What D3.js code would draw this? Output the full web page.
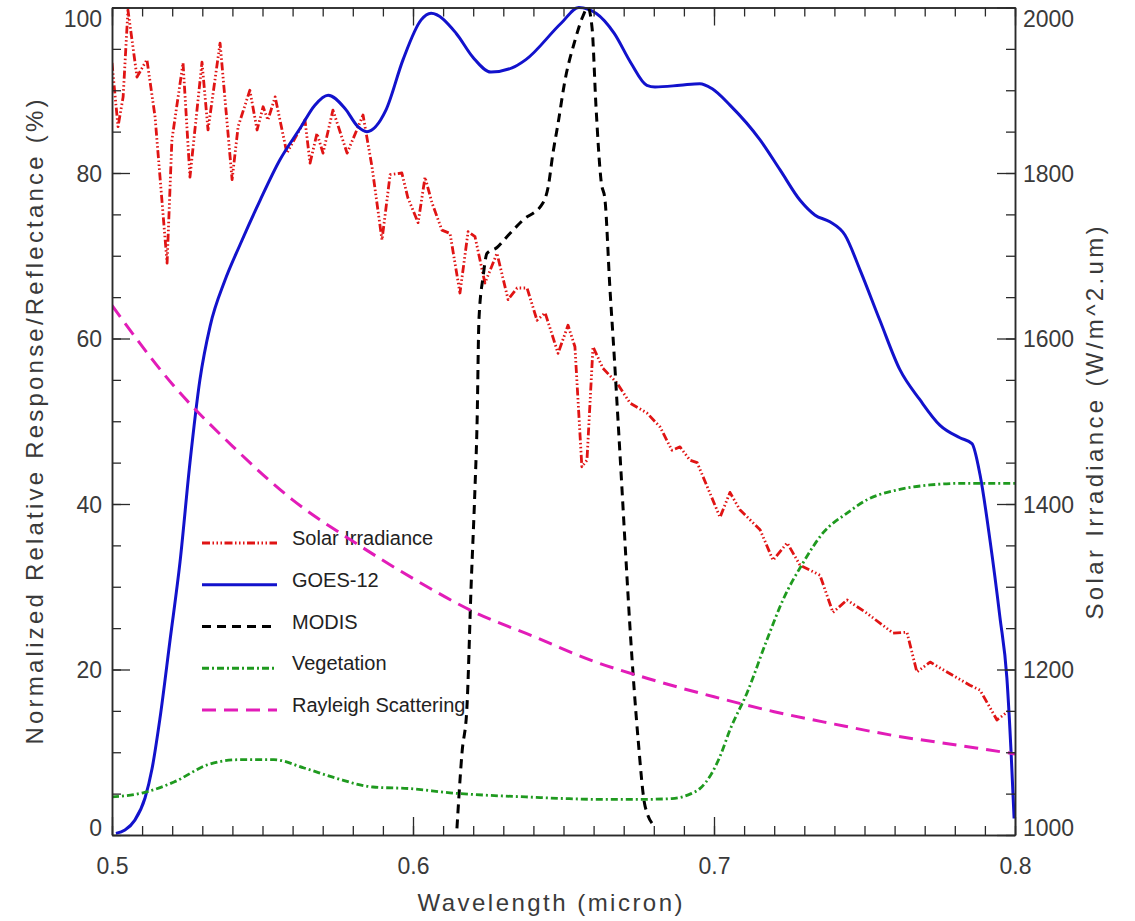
<!DOCTYPE html>
<html>
<head>
<meta charset="utf-8">
<script src="https://cdn.jsdelivr.net/npm/d3@7"></script>
<style>
  html, body { margin: 0; padding: 0; background: #fff; }
  svg { display: block; }
  text { font-family: "Liberation Sans", "DejaVu Sans", sans-serif; }
</style>
</head>
<body>
<svg id="chart" width="1135" height="921"></svg>
<script>
// ---------------- DATA ----------------
const xTickLabels = [0.5, 0.6, 0.7, 0.8];
const leftTickLabels = [0, 20, 40, 60, 80, 100];
const rightTickLabels = [1000, 1200, 1400, 1600, 1800, 2000];

const seriesNames = ["Solar Irradiance", "GOES-12", "MODIS", "Vegetation", "Rayleigh Scattering"];

// Solar irradiance (W/m^2.um), right axis
const solarWl = [0.5000,0.5020,0.5037,0.5053,0.5083,0.5116,0.5143,0.5183,0.5199,0.5236,0.5259,0.5299,0.5319,0.5359,0.5399,0.5419,0.5458,0.5482,0.5502,0.5518,0.5542,0.5581,0.5641,0.5658,0.5681,0.5701,0.5734,0.5781,0.5834,0.5864,0.5897,0.5924,0.5963,0.5983,0.6017,0.6040,0.6063,0.6096,0.6123,0.6156,0.6183,0.6206,0.6239,0.6279,0.6316,0.6346,0.6379,0.6412,0.6439,0.6482,0.6515,0.6538,0.6561,0.6578,0.6598,0.6631,0.6678,0.6721,0.6777,0.6821,0.6860,0.6887,0.6920,0.6944,0.7020,0.7053,0.7086,0.7153,0.7196,0.7243,0.7286,0.7352,0.7395,0.7442,0.7508,0.7595,0.7641,0.7674,0.7718,0.7774,0.7850,0.7884,0.7940,0.7983];
const solarIrr = [1933,1856,1892,1997,1916,1937,1868,1691,1840,1933,1795,1934,1852,1957,1792,1856,1900,1852,1880,1864,1892,1824,1864,1812,1848,1824,1876,1824,1870,1807,1719,1798,1800,1770,1740,1795,1764,1731,1727,1655,1729,1723,1667,1703,1647,1661,1661,1622,1631,1582,1616,1590,1445,1453,1590,1564,1546,1522,1510,1493,1465,1469,1453,1450,1384,1414,1393,1369,1332,1353,1326,1314,1269,1284,1268,1244,1245,1197,1209,1197,1181,1175,1139,1151];

// GOES-12 normalized response (%)
const goesWl = [0.5013,0.5043,0.5076,0.5110,0.5133,0.5159,0.5193,0.5226,0.5259,0.5292,0.5326,0.5375,0.5425,0.5492,0.5558,0.5625,0.5674,0.5718,0.5774,0.5817,0.5847,0.5910,0.5967,0.6027,0.6060,0.6143,0.6199,0.6259,0.6329,0.6375,0.6492,0.6551,0.6608,0.6668,0.6724,0.6777,0.6804,0.6887,0.6953,0.6993,0.7053,0.7153,0.7219,0.7286,0.7336,0.7385,0.7435,0.7485,0.7551,0.7618,0.7684,0.7751,0.7817,0.7857,0.7884,0.7917,0.7950,0.7973,0.7987,0.7997];
const goesResp = [0.2,0.6,1.8,4.5,8,14,23.6,33,45,55,61.5,67,71.3,76.7,81.6,85.4,88.2,89.4,87.8,85.6,85.0,87.6,93.7,98.5,99.3,96.9,94,92.2,92.7,93.7,98.1,100,99.3,96.9,93.3,90.6,90.4,90.6,90.8,90.2,88.2,84,80.4,76.7,74.9,74.1,72.5,68.3,62.2,56.2,52.6,49.5,48,47.3,43.5,35.6,26.3,19,10,2];

// MODIS normalized response (%)
const modisWl = [0.6146,0.6163,0.6179,0.6193,0.6206,0.6213,0.6219,0.6233,0.6246,0.6279,0.6312,0.6365,0.6432,0.6449,0.6465,0.6482,0.6505,0.6538,0.6565,0.6581,0.6595,0.6608,0.6625,0.6638,0.6654,0.6668,0.6681,0.6694,0.6708,0.6721,0.6734,0.6748,0.6771,0.6804];
const modisResp = [0.8,10,15.3,30,42,50,62.2,67.5,70.3,71,72.3,74.3,76.4,78.3,82.4,86,91.2,96,99,100,97.5,88,79,76.7,66.2,58.2,50.2,42,33,25,18,11.5,3.5,1];

// Vegetation reflectance (%)
const vegWl = [0.5000,0.5103,0.5206,0.5319,0.5422,0.5538,0.5638,0.5741,0.5867,0.5993,0.6123,0.6249,0.6375,0.6505,0.6631,0.6757,0.6860,0.6924,0.6953,0.6990,0.7020,0.7053,0.7110,0.7176,0.7229,0.7296,0.7362,0.7442,0.7508,0.7608,0.7718,0.7827,0.8000];
const vegRefl = [4.6,5.1,6.4,8.5,9.1,9.1,8.1,6.9,5.8,5.6,5.1,4.8,4.6,4.4,4.3,4.3,4.4,5.0,5.6,7.3,9.5,12.7,17.2,23.6,28.4,32.9,36.5,38.9,40.5,41.7,42.3,42.5,42.5];

// Rayleigh scattering (%)
const rayWl = [0.50,0.52,0.54,0.56,0.58,0.60,0.62,0.64,0.66,0.68,0.70,0.72,0.74,0.76,0.78,0.80];
const rayVal = [64,54.5,47,40.5,35.5,31,27,24,21,18.7,16.7,14.9,13.4,12.0,10.9,9.8];

// ---------------- LAYOUT ----------------
const svg = d3.select("#chart");
const L = 112, R = 1015, T = 7.5, B = 835;
const axisColor = "#2a2a2a", textColor = "#3a3a3a";

const x = d3.scaleLinear().domain([0.5, 0.8]).range([L, R]);
const yL = d3.scaleLinear().domain([0, 100]).range([B, T]);
const yR = d3.scaleLinear().domain([1000, 2000]).range([B, T]);

const styles = {
  "Solar Irradiance":    { color: "#e01414", dash: "8,2.5,1.5,2.5,1.5,2.5,1.5,2.5", width: 2.8 },
  "GOES-12":             { color: "#1212cc", dash: null, width: 3 },
  "MODIS":               { color: "#000000", dash: "9,6", width: 3 },
  "Vegetation":          { color: "#1f9a1f", dash: "7,3,2,3", width: 2.8 },
  "Rayleigh Scattering": { color: "#e21cb8", dash: "14,8", width: 3 }
};

// ---------------- LEGEND (drawn under curves) ----------------
const legend = svg.append("g");
const legY = d3.scaleLinear().domain([0, 4]).range([543, 710]);
seriesNames.forEach((name, i) => {
  const s = styles[name];
  legend.append("line")
    .attr("x1", 202).attr("x2", 277)
    .attr("y1", legY(i)).attr("y2", legY(i))
    .attr("stroke", s.color).attr("stroke-width", s.width)
    .attr("stroke-dasharray", s.dash);
  legend.append("text")
    .attr("x", 292).attr("y", legY(i) - 5).attr("dy", "0.35em")
    .attr("font-size", 20).attr("fill", "#222")
    .text(name);
});

// ---------------- CURVES ----------------
svg.append("clipPath").attr("id", "clip")
  .append("rect").attr("x", L).attr("y", T - 2).attr("width", R - L).attr("height", B - T + 2);
const plot = svg.append("g").attr("clip-path", "url(#clip)");

function drawLine(wl, vals, yScale, name, curve) {
  const s = styles[name];
  const pts = wl.map((w, i) => [w, vals[i]]);
  plot.append("path")
    .datum(pts)
    .attr("fill", "none")
    .attr("stroke", s.color)
    .attr("stroke-width", s.width)
    .attr("stroke-dasharray", s.dash)
    .attr("stroke-linejoin", "round")
    .attr("d", d3.line().x(d => x(d[0])).y(d => yScale(d[1])).curve(curve));
}

drawLine(solarWl, solarIrr, yR, "Solar Irradiance", d3.curveLinear);
drawLine(goesWl, goesResp, yL, "GOES-12", d3.curveMonotoneX);
drawLine(modisWl, modisResp, yL, "MODIS", d3.curveMonotoneX);
drawLine(vegWl, vegRefl, yL, "Vegetation", d3.curveMonotoneX);
drawLine(rayWl, rayVal, yL, "Rayleigh Scattering", d3.curveMonotoneX);

// ---------------- AXES ----------------
function styleAxis(g) {
  g.selectAll("path.domain").attr("stroke", axisColor).attr("stroke-width", 1.5);
  g.selectAll("line").attr("stroke", axisColor).attr("stroke-width", 1.3);
  g.selectAll("text").attr("fill", textColor).attr("font-size", 23)
    .attr("font-family", "Liberation Sans, DejaVu Sans, sans-serif");
}
function clampLabels(g, scale) {
  g.selectAll(".tick text").each(function(d) {
    const yv = scale(d);
    const yc = Math.max(T + 10.5, Math.min(B - 8, yv));
    d3.select(this).attr("y", yc - yv);
  });
}

// minor ticks
svg.append("g").attr("transform", `translate(${L},0)`)
  .call(d3.axisLeft(yL).tickValues(d3.range(0, 101, 5)).tickSize(-9).tickSizeOuter(0).tickFormat(""))
  .call(styleAxis);
svg.append("g").attr("transform", `translate(${R},0)`)
  .call(d3.axisRight(yR).tickValues(d3.range(1000, 2001, 50)).tickSize(-9).tickSizeOuter(0).tickFormat(""))
  .call(styleAxis);
svg.append("g").attr("transform", `translate(0,${B})`)
  .call(d3.axisBottom(x).tickValues(d3.range(50, 81, 1).map(v => v / 100)).tickSize(-9).tickSizeOuter(0).tickFormat(""))
  .call(styleAxis);
svg.append("g").attr("transform", `translate(0,${T})`)
  .call(d3.axisTop(x).tickValues(d3.range(50, 81, 1).map(v => v / 100)).tickSize(-9).tickSizeOuter(0).tickFormat(""))
  .call(styleAxis);

// major ticks + labels
const gl = svg.append("g").attr("transform", `translate(${L},0)`)
  .call(d3.axisLeft(yL).tickValues(leftTickLabels).tickSize(-18).tickSizeOuter(0).tickPadding(10).tickFormat(d3.format("d")))
  .call(styleAxis);
gl.selectAll(".tick text").attr("dy", "0.36em");
clampLabels(gl, yL);

const gr = svg.append("g").attr("transform", `translate(${R},0)`)
  .call(d3.axisRight(yR).tickValues(rightTickLabels).tickSize(-18).tickSizeOuter(0).tickPadding(8).tickFormat(d3.format("d")))
  .call(styleAxis);
gr.selectAll(".tick text").attr("dy", "0.36em");
clampLabels(gr, yR);

svg.append("g").attr("transform", `translate(0,${B})`)
  .call(d3.axisBottom(x).tickValues(xTickLabels).tickSize(-18).tickSizeOuter(0).tickPadding(23).tickFormat(d3.format(".1f")))
  .call(styleAxis);
svg.append("g").attr("transform", `translate(0,${T})`)
  .call(d3.axisTop(x).tickValues(xTickLabels).tickSize(-18).tickSizeOuter(0).tickFormat(""))
  .call(styleAxis);

// ---------------- TITLES ----------------
svg.append("text")
  .attr("x", 550).attr("y", 911)
  .attr("text-anchor", "middle").attr("font-size", 24).attr("fill", textColor)
  .attr("textLength", 265).attr("lengthAdjust", "spacing")
  .text("Wavelength (micron)");

svg.append("text")
  .attr("transform", "translate(43,422) rotate(-90)")
  .attr("text-anchor", "middle").attr("font-size", 24).attr("fill", textColor)
  .attr("textLength", 645).attr("lengthAdjust", "spacing")
  .text("Normalized Relative Response/Reflectance (%)");

svg.append("text")
  .attr("transform", "translate(1103,423) rotate(-90)")
  .attr("text-anchor", "middle").attr("font-size", 24).attr("fill", textColor)
  .attr("textLength", 393).attr("lengthAdjust", "spacing")
  .text("Solar Irradiance (W/m^2.um)");
</script>
</body>
</html>
